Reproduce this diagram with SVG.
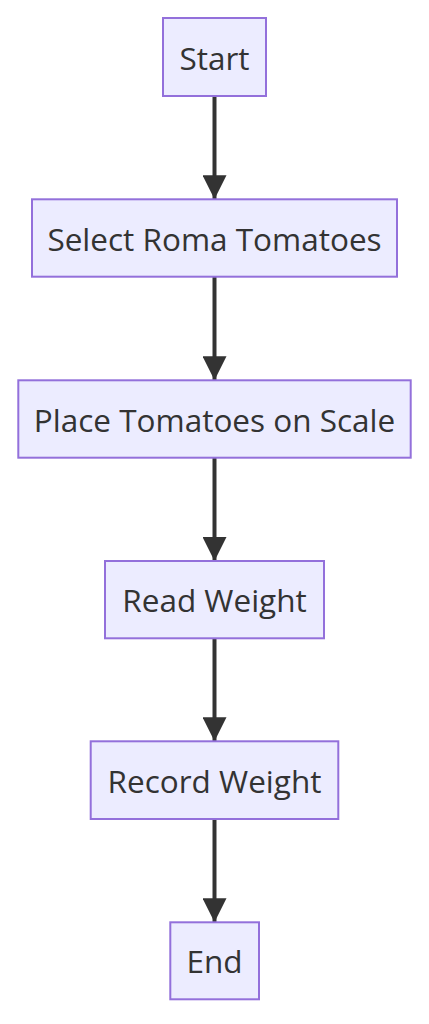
<svg xmlns="http://www.w3.org/2000/svg" width="429" height="1024" viewBox="0 0 429 1024">
<style>
.node rect{fill:#ECECFF;stroke:#9370DB;stroke-width:2}
.node text{font-family:"Open Sans","Noto Sans","DejaVu Sans",sans-serif;font-size:31.5px;fill:#333333;text-anchor:middle}
.edge{stroke:#333333;stroke-width:4;fill:none}
</style>
<defs>
<marker id="arrow" markerUnits="userSpaceOnUse" viewBox="0 0 24 24" refX="24" refY="12" markerWidth="24" markerHeight="24" orient="auto">
<path d="M0,0 L24,12 L0,24 z" fill="#333333"/>
</marker>
</defs>
<rect width="429" height="1024" fill="#ffffff"/>
<g id="edges">
<line class="edge" x1="214.5" y1="96" x2="214.5" y2="199.3" marker-end="url(#arrow)"/>
<line class="edge" x1="214.5" y1="276.7" x2="214.5" y2="380.3" marker-end="url(#arrow)"/>
<line class="edge" x1="214.5" y1="457.7" x2="214.5" y2="561" marker-end="url(#arrow)"/>
<line class="edge" x1="214.5" y1="638.3" x2="214.5" y2="741.3" marker-end="url(#arrow)"/>
<line class="edge" x1="214.5" y1="819" x2="214.5" y2="922.3" marker-end="url(#arrow)"/>
</g>
<g id="start" class="node"><rect x="163" y="18" width="103" height="78"/><text x="214.5" y="69.5">Start</text></g>
<g id="select" class="node"><rect x="32" y="199.3" width="365" height="77.4"/><text x="214.5" y="250.5">Select Roma Tomatoes</text></g>
<g id="place" class="node"><rect x="18.3" y="380.3" width="392.4" height="77.4"/><text x="214.5" y="431.5">Place Tomatoes on Scale</text></g>
<g id="read" class="node"><rect x="105" y="561" width="219" height="77.3"/><text x="214.5" y="612.2">Read Weight</text></g>
<g id="record" class="node"><rect x="90.7" y="741.3" width="247.6" height="77.7"/><text x="214.5" y="792.7">Record Weight</text></g>
<g id="end" class="node"><rect x="170.3" y="922.3" width="88.7" height="77"/><text x="214.5" y="973.3">End</text></g>
</svg>
